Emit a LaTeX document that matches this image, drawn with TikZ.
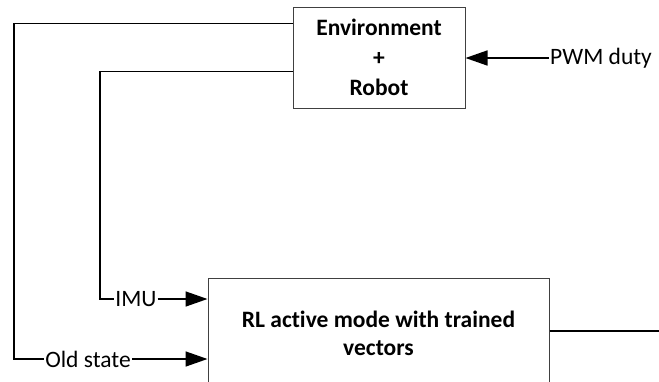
\documentclass[tikz,border=0pt]{standalone}
\usepackage{fontspec}
\setmainfont[Ligatures=NoCommon]{Carlito}
\usetikzlibrary{arrows.meta}
\begin{document}
\begin{tikzpicture}[x=1pt,y=-1pt,
  box/.style={draw=black!75,line width=1pt,rectangle,align=center,font=\fontsize{23.5}{30}\selectfont\bfseries},
  conn/.style={draw=black,line width=1.6pt},
  arr/.style={conn,-{Triangle[length=22pt,width=15pt]}},
  lbl/.style={inner sep=1pt,font=\fontsize{23.5}{26}\selectfont}]
\useasboundingbox (0,0) rectangle (659,381);
\clip (0,0) rectangle (659,381);
\node[box,minimum width=172pt,minimum height=101pt] (env) at (379,57.5) {Environment\\+\\Robot};
\node[box,minimum width=341pt,minimum height=110pt,font=\fontsize{23.5}{28}\selectfont\bfseries] (rl) at (378.5,333) {RL active mode with trained\\vectors};
\node[lbl,anchor=west] (pwm) at (549,58) {PWM duty};
\node[lbl] (imu) at (136,299) {IMU};
\node[lbl] (old) at (88,359) {Old state};
\coordinate (k1) at (14,359);
\coordinate (k2) at (100,299);
\coordinate (out) at (659,331);
\draw[conn] ([yshift=-17pt]env.north west) -| (k1) -- (old.west);
\draw[arr] (old.east) -- (rl.west |- old.east);
\draw[conn] ([yshift=-65pt]env.north west) -| (k2) -- (imu.west);
\draw[arr] (imu.east) -- (rl.west |- imu.east);
\draw[arr] (pwm.west) -- (env.east |- pwm.west);
\draw[conn] (rl.east |- out) -- (out);
\end{tikzpicture}
\end{document}
